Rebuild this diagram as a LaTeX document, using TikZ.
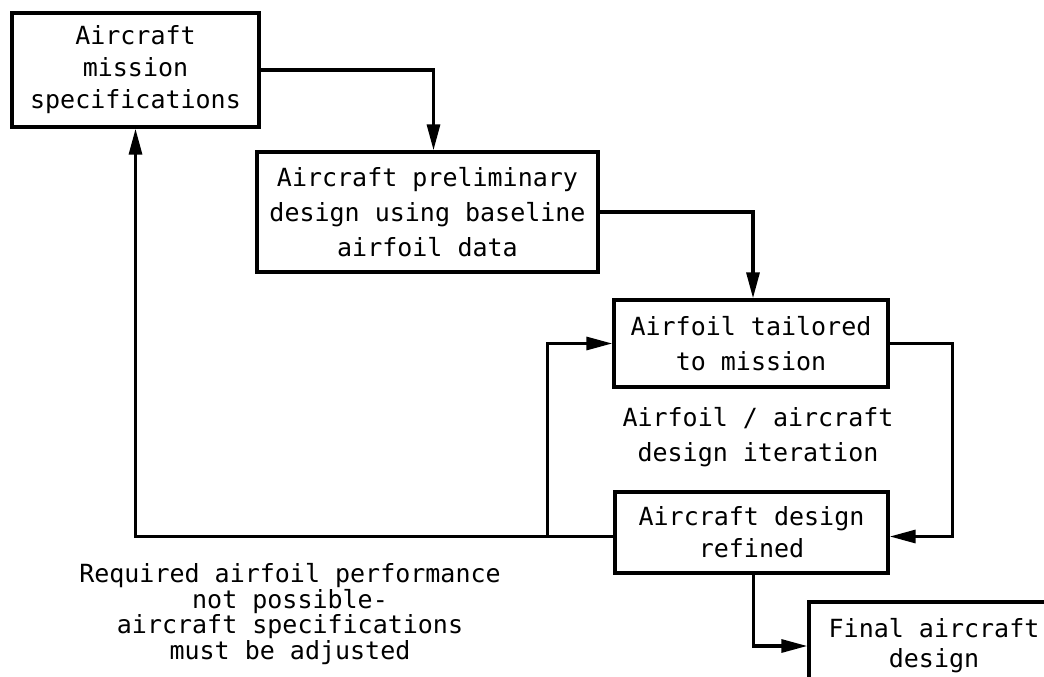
\documentclass[tikz,border=0pt]{standalone}
\usepackage{fontspec}
\newfontfamily\leroy{DejaVu Sans Mono}
\usetikzlibrary{arrows.meta}

\begin{document}
\begin{tikzpicture}[x=1pt, y=-1pt,
    box/.style={draw, line width=3.4pt, inner sep=0pt, align=center,
      font=\leroy\fontsize{25}{32}\selectfont},
    lbl/.style={align=center, font=\leroy\fontsize{25}{25.5}\selectfont},
    arr/.style={line width=3.2pt, -{Triangle[length=26pt, width=13pt]}}]
    % 画布大小
    \useasboundingbox (0,0) rectangle (1044,677);
    \clip (0,0) rectangle (1044,677);

    % 方框
    \node[box, minimum width=247pt, minimum height=114pt] (spec) at (135.5,70)
      {Aircraft\\mission\\specifications};
    \node[box, minimum width=341pt, minimum height=120pt] (prelim) at (427.5,212)
      {Aircraft preliminary\\[3pt]design using baseline\\[3pt]airfoil data};
    \node[box, minimum width=274pt, minimum height=87pt] (tailor) at (751,343.5)
      {Airfoil tailored\\[3pt]to mission};
    \node[box, minimum width=273pt, minimum height=81pt] (refine) at (751.5,532.5)
      {Aircraft design\\refined};
    % 最终方框 (超出右下边界)
    \node[box, minimum width=250pt, minimum height=88pt] (final) at (934,646)
      {Final aircraft\\[-2pt]design};

    % 说明文字
    \node[lbl, font=\leroy\fontsize{25}{35}\selectfont] (iter) at (758,437)
      {Airfoil / aircraft\\design iteration};
    \node[lbl] (adjust) at (290,614)
      {Required airfoil performance\\not possible-\\aircraft specifications\\must be adjusted};

    % 连线
    \draw[arr] (spec.east) -| ([xshift=6pt]prelim.north);
    \draw[arr] (prelim.east) -| ([xshift=2pt]tailor.north);
    \draw[arr] (tailor.east) -- ++(63,0) |- ([yshift=-4pt]refine.east);
    \draw[arr] ([yshift=-4pt]refine.west) -| (spec.south);
    \coordinate (fork) at ([xshift=-66pt, yshift=-4pt]refine.west);
    \draw[arr] (fork) |- (tailor.west);
    \draw[arr] ([xshift=2pt]refine.south) |- (final.west);
  \end{tikzpicture}
\end{document}
